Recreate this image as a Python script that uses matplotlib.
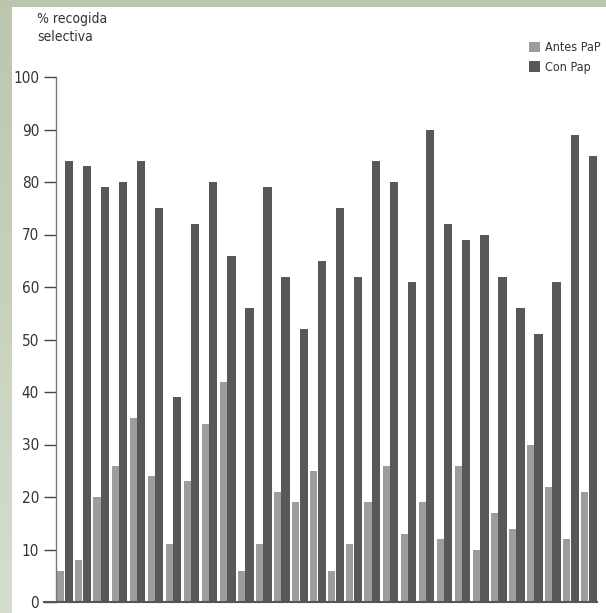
import numpy as np
import matplotlib
matplotlib.use("Agg")
import matplotlib.pyplot as plt
from matplotlib.patches import Rectangle

plt.rcParams['font.family'] = ['DejaVu Sans']
plt.rcParams['font.stretch'] = 'condensed'

# values
antes_pap = [6, 8, 20, 26, 35, 24, 11, 23, 34, 42, 6, 11, 21, 19, 25,
             6, 11, 19, 26, 13, 19, 12, 26, 10, 17, 14, 30, 22, 12, 21]
con_pap = [84, 83, 79, 80, 84, 75, 39, 72, 80, 66, 56, 79, 62, 52, 65,
           75, 62, 84, 80, 61, 90, 72, 69, 70, 62, 56, 51, 61, 89, 85]
y_ticks = [0, 10, 20, 30, 40, 50, 60, 70, 80, 90, 100]
legend_labels = ['Antes PaP', 'Con Pap']

light = '#9d9d9f'
dark = '#58585a'
W, H = 606, 613

fig = plt.figure(figsize=(W / 100, H / 100), dpi=100)

# greenish frame with a soft vertical gradient, white panel on top
bg = fig.add_axes([0, 0, 1, 1], zorder=-10)
grad = np.linspace(0, 1, 256).reshape(-1, 1)
cmap = matplotlib.colors.LinearSegmentedColormap.from_list('g', ['#bac6ae', '#d4dece'])
bg.imshow(grad, aspect='auto', cmap=cmap, extent=[0, 1, 0, 1], origin='upper')
bg.add_patch(Rectangle((12 / W, 0), 1 - 12 / W, 1 - 7 / H, color='white', lw=0))
bg.set_xlim(0, 1)
bg.set_ylim(0, 1)
bg.axis('off')

ax = fig.add_axes([55.7 / W, 11 / H, (597 - 55.7) / W, 525 / H])
ax.set_facecolor('none')

x = np.arange(len(con_pap))
ax.bar(x, antes_pap, width=0.39, align='edge', color=light, label=legend_labels[0])
ax.bar(x + 0.405, con_pap, width=0.46, align='edge', color=dark, label=legend_labels[1])

ax.set_xlim(-0.09, 29.87)
ax.set_ylim(0, 100)
ax.set_yticks(y_ticks)
ax.set_xticks([])
ax.tick_params(axis='y', direction='out', length=9, width=1, color='#444444',
               pad=3, labelsize=11, labelcolor='#333333')
for s in ['top', 'right']:
    ax.spines[s].set_visible(False)
ax.spines['left'].set_color('#777777')
ax.spines['left'].set_linewidth(1.0)
ax.spines['bottom'].set_color('#555555')
ax.spines['bottom'].set_linewidth(1.5)
ax.spines['bottom'].set_bounds(-0.09 - 12 / 18, 29.87)
ax.spines['bottom'].set_clip_on(False)

fig.text(37 / W, 1 - 12 / H, '% recogida\nselectiva', ha='left', va='top',
         fontsize=10, color='#333333', linespacing=1.35)

ax.legend(loc='upper right', bbox_to_anchor=(601 / W, 1 - 41 / H),
          bbox_transform=fig.transFigure, frameon=False, handlelength=0.9,
          handleheight=0.9, handletextpad=0.4, borderaxespad=0, borderpad=0,
          labelspacing=0.55, fontsize=9, labelcolor='#333333')

fig.savefig('out.png', dpi=100)
